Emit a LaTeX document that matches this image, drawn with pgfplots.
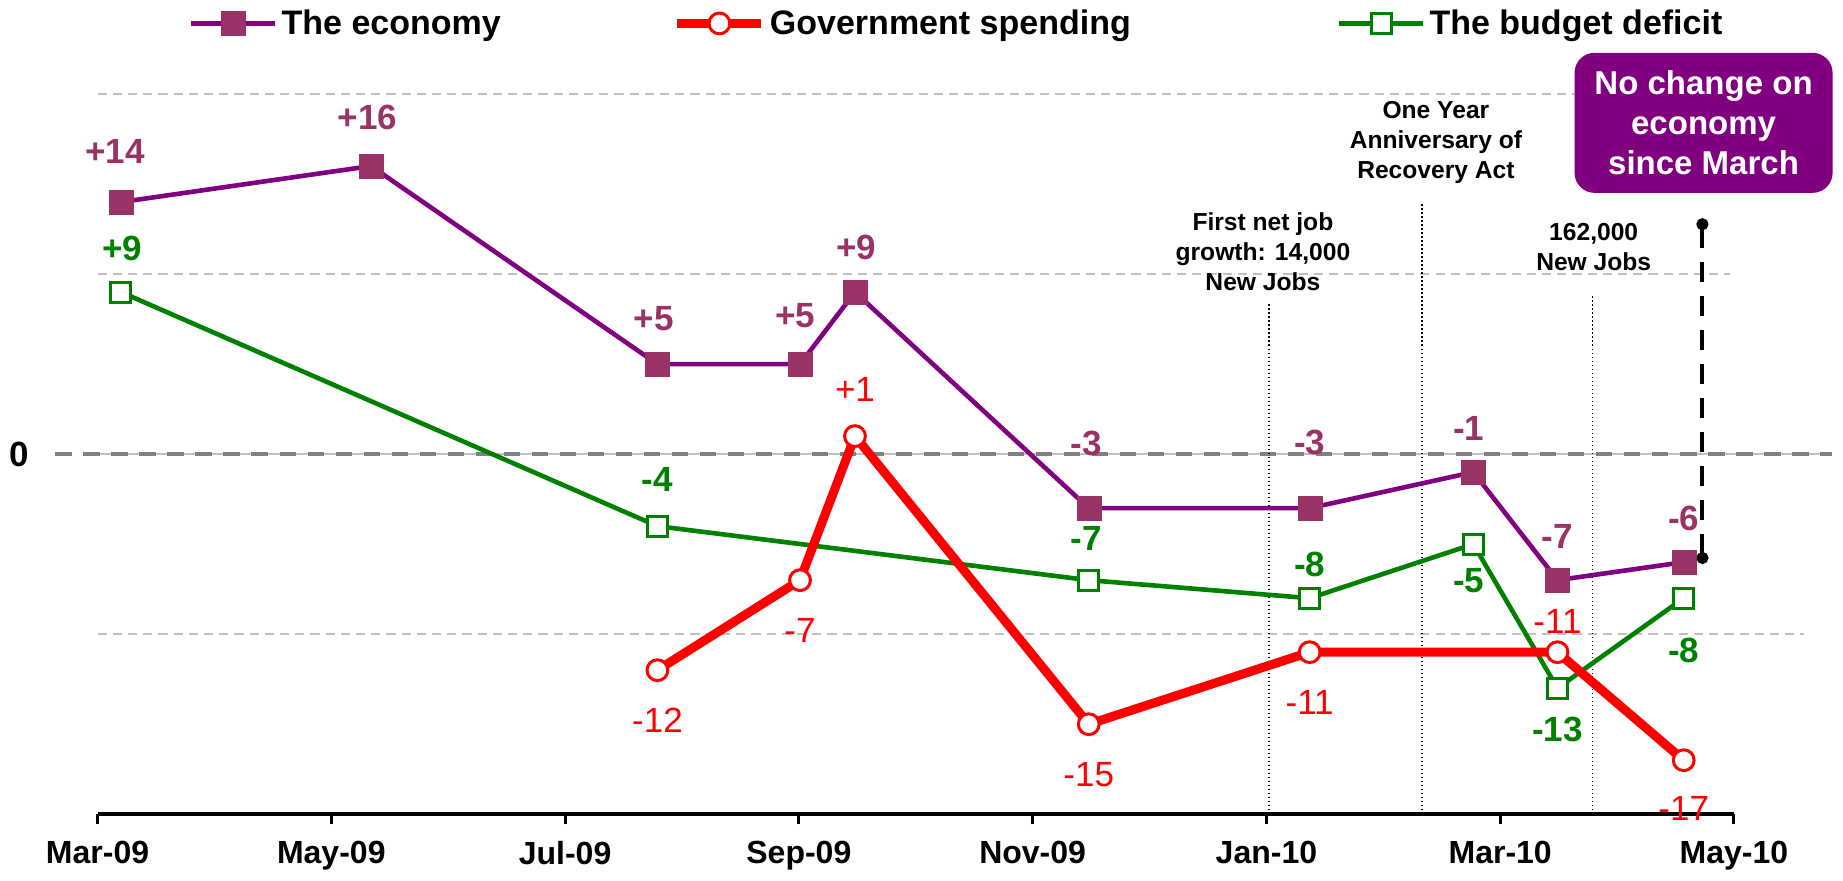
\documentclass[border=0pt]{standalone}
\usepackage{pgfplots}
\pgfplotsset{compat=1.18}
\usetikzlibrary{arrows.meta}
\usepackage{fontspec}
\setmainfont{Liberation Sans}
\definecolor{econ}{HTML}{800080}
\definecolor{econmark}{HTML}{993366}
\definecolor{gov}{HTML}{FF0000}
\definecolor{deficit}{HTML}{008000}
\definecolor{gridgray}{HTML}{C0C0C0}
\definecolor{zerogray}{HTML}{808080}
\newcommand\lbl{\fontsize{17.5}{20}\selectfont\bfseries}
\newcommand\glbl{\fontsize{17.5}{20}\selectfont}
\newcommand\note{\fontsize{12.3}{15}\selectfont\bfseries}

\begin{document}
\begin{tikzpicture}
\begin{axis}[
  width=818pt, height=360pt, scale only axis,
  xmin=0, xmax=14, ymin=-20, ymax=20,
  clip=false,
  axis x line=bottom, axis y line=left,
  y axis line style={draw=none},
  x axis line style={line width=1.75pt, -},
  xtick={0,2,...,14},
  xticklabels={Mar-09,May-09,Jul-09,Sep-09,Nov-09,Jan-10,Mar-10,May-10},
  xtick align=outside,
  major tick length=5pt,
  xtick style={line width=1.5pt, black},
  ytick={0}, yticklabels={0},
  ytick style={draw=none},
  xticklabel style={font=\fontsize{16}{19}\selectfont\bfseries, yshift=-5pt},
  yticklabel style={font=\lbl, xshift=-28pt},
  legend columns=3,
  reverse legend,
  legend cell align=left,
  legend style={at={(0.052,1.098)}, anchor=west, draw=none, fill=none,
    font=\fontsize{17}{20}\selectfont\bfseries,
    /tikz/column 2/.style={column sep=84pt},
    /tikz/column 4/.style={column sep=101pt}},
  legend image code/.code={\draw[mark repeat=2, mark phase=2, #1]
    plot coordinates {(0pt,0pt) (21pt,0pt) (42pt,0pt)};},
]
% grid lines (extents as in the original)
\draw[gridgray, line width=0.75pt, dash pattern=on 4.6pt off 3pt] (axis cs:0,20) -- (axis cs:14.5,20);
\draw[gridgray, line width=0.75pt, dash pattern=on 4.6pt off 3pt] (axis cs:0,10) -- (axis cs:13.97,10);
\draw[gridgray, line width=0.75pt, dash pattern=on 4.6pt off 3pt] (axis cs:0,-10) -- (axis cs:14.6,-10);
\draw[gridgray, line width=0.75pt] (axis cs:0,0) -- (axis cs:14.8,0);
\draw[zerogray, line width=2pt, dash pattern=on 8.3pt off 5.7pt] (axis cs:-0.36,0) -- (axis cs:14.84,0);

% event markers
\draw[black, line width=0.8pt, dash pattern=on 0.8pt off 1.2pt] (axis cs:10.02,-20) -- (axis cs:10.02,8.4);
\draw[black, line width=0.8pt, dash pattern=on 0.8pt off 1.2pt] (axis cs:11.33,-20) -- (axis cs:11.33,13.9);
\draw[black, line width=0.8pt, dash pattern=on 0.8pt off 1.2pt] (axis cs:12.79,-20) -- (axis cs:12.79,8.8);

\addplot[deficit, line width=2.3pt, mark=square*, mark size=5pt,
  mark options={solid, fill=white, draw=deficit, line width=1.5pt}]
  coordinates {(0.20,9) (4.79,-4) (8.48,-7) (10.37,-8) (11.77,-5) (12.49,-13) (13.57,-8)};
\addlegendentry{The budget deficit}
\addplot[gov, line width=4.5pt, mark=*, mark size=5.2pt,
  mark options={solid, fill=white, draw=gov, line width=1.5pt}]
  coordinates {(4.79,-12) (6.01,-7) (6.48,1) (8.48,-15) (10.37,-11) (12.49,-11) (13.57,-17)};
\addlegendentry{Government spending}
\addplot[econ, line width=2.3pt, mark=square*, mark size=6pt,
  mark options={solid, fill=econmark, draw=econmark, line width=0.1pt}]
  coordinates {(0.20,14) (2.34,16) (4.79,5) (6.01,5) (6.48,9) (8.48,-3) (10.37,-3) (11.77,-1) (12.49,-7) (13.57,-6)};
\addlegendentry{The economy}

% data labels: the economy
\node[econmark, font=\lbl] at (axis cs:0.15,16.8) {+14};
\node[econmark, font=\lbl] at (axis cs:2.31,18.7) {+16};
\node[econmark, font=\lbl] at (axis cs:4.76,7.5) {+5};
\node[econmark, font=\lbl] at (axis cs:5.97,7.7) {+5};
\node[econmark, font=\lbl] at (axis cs:6.49,11.5) {+9};
\node[econmark, font=\lbl] at (axis cs:8.46,0.6) {-3};
\node[econmark, font=\lbl] at (axis cs:10.37,0.65) {-3};
\node[econmark, font=\lbl] at (axis cs:11.73,1.4) {-1};
\node[econmark, font=\lbl] at (axis cs:12.49,-4.6) {-7};
\node[econmark, font=\lbl] at (axis cs:13.57,-3.6) {-6};
% data labels: budget deficit
\node[deficit, font=\lbl] at (axis cs:0.21,11.4) {+9};
\node[deficit, font=\lbl] at (axis cs:4.79,-1.4) {-4};
\node[deficit, font=\lbl] at (axis cs:8.46,-4.7) {-7};
\node[deficit, font=\lbl] at (axis cs:10.37,-6.1) {-8};
\node[deficit, font=\lbl] at (axis cs:11.73,-7.0) {-5};
\node[deficit, font=\lbl] at (axis cs:12.49,-15.3) {-13};
\node[deficit, font=\lbl] at (axis cs:13.57,-10.9) {-8};
% data labels: government spending
\node[gov, font=\glbl] at (axis cs:4.79,-14.8) {-12};
\node[gov, font=\glbl] at (axis cs:6.01,-9.8) {-7};
\node[gov, font=\glbl] at (axis cs:6.48,3.6) {+1};
\node[gov, font=\glbl] at (axis cs:8.48,-17.8) {-15};
\node[gov, font=\glbl] at (axis cs:10.37,-13.8) {-11};
\node[gov, font=\glbl] at (axis cs:12.49,-9.3) {-11};
\node[gov, font=\glbl] at (axis cs:13.57,-19.7) {-17};

% annotations
\node[font=\note, align=center] at (axis cs:9.97,11.24) {First net job\\growth: 14,000\\New Jobs};
\node[font=\note, align=center] at (axis cs:11.45,17.3) {One Year\\Anniversary of\\Recovery Act};
\node[font=\note, align=center] at (axis cs:12.8,11.5) {162,000\\New Jobs};

\draw[black, line width=2pt, dash pattern=on 10pt off 7pt, {Circle[length=6pt]}-{Circle[length=6pt]}]
  (axis cs:13.73,-6.1) -- (axis cs:13.73,13.1);

\node[fill=econ, rounded corners=10pt, minimum width=129pt, minimum height=70pt,
  text=white, align=center, font=\fontsize{16.5}{20}\selectfont\bfseries, inner sep=0pt]
  at (axis cs:13.74,18.4) {No change on\\economy\\since March};
\end{axis}
\pgfresetboundingbox
\path[use as bounding box] (-48.75pt,-33pt) rectangle (872.5pt,407pt);
\end{tikzpicture}
\end{document}
